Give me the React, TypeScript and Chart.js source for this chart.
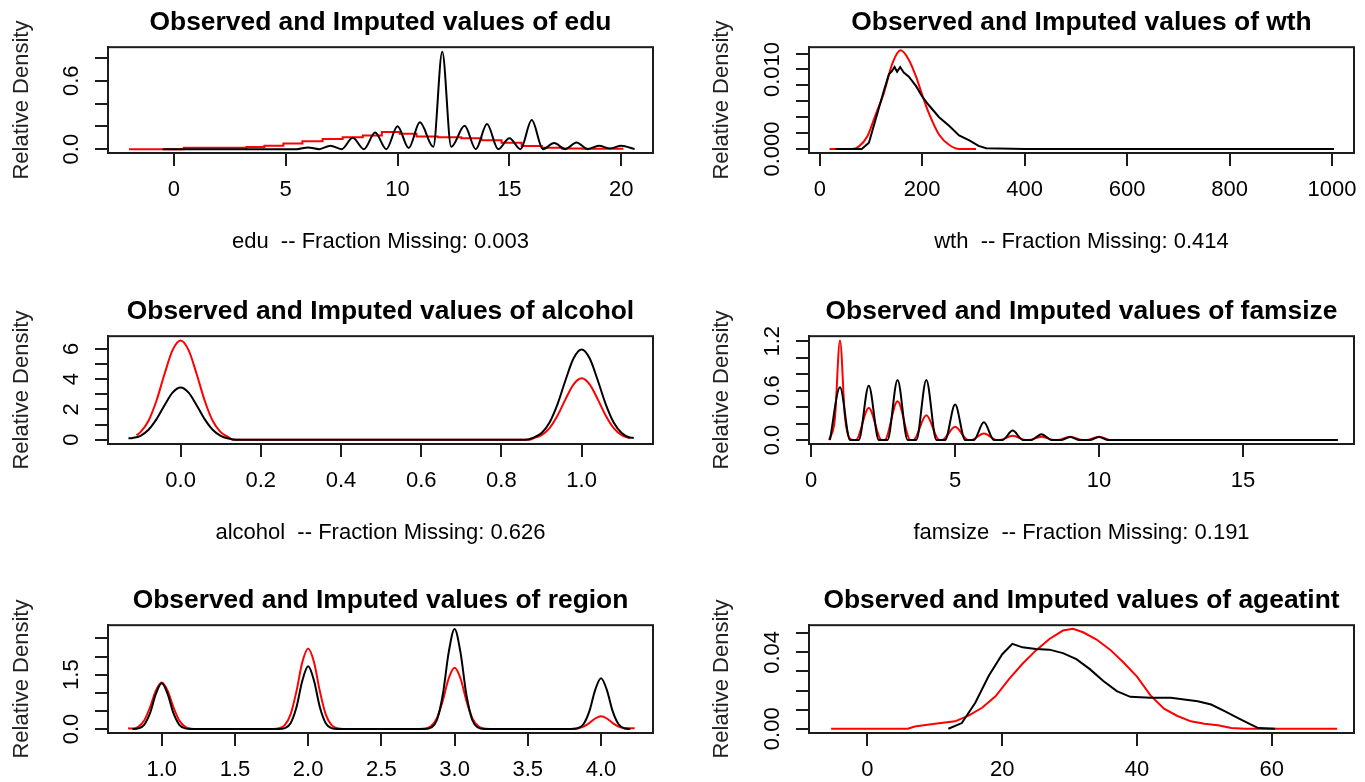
import React, { useEffect, useRef } from 'react';
import { Chart, registerables } from 'chart.js';

Chart.register(...registerables);

const FONT = "'Liberation Sans', Arial, Helvetica, sans-serif";
Chart.defaults.font.family = FONT;
Chart.defaults.color = '#000';

// ---------------- edu ----------------
const eduObsX = [-0.5, 5.5, 6, 6.5, 7, 7.5, 8, 8.5, 9, 9.5, 10, 10.5, 11, 11.6, 12, 12.4, 13, 13.5, 14, 14.5, 15, 15.5, 16, 16.5, 17, 17.5, 18, 18.5, 19, 19.5, 20, 20.6];
const eduObsY = [0, 0, 0.015, 0, 0.03, 0, 0.1, 0, 0.145, 0, 0.2, 0.01, 0.235, 0.02, 0.855, 0.02, 0.205, 0, 0.22, 0, 0.095, 0, 0.255, 0, 0.053, 0, 0.058, 0, 0.03, 0.005, 0.03, 0];
const eduImpX = [-2.0, 2.9, 3.6, 4.5, 5.3, 6.2, 7.1, 8.0, 8.9, 9.7, 10.5, 11.2, 12.4, 13.3, 14.2, 15.1, 16.0, 16.9, 17.8, 18.7, 20.1];
const eduImpY = [0, 0.012, 0.018, 0.03, 0.05, 0.07, 0.09, 0.105, 0.12, 0.15, 0.135, 0.11, 0.105, 0.095, 0.078, 0.055, 0.028, 0.013, 0.006, 0.004, 0.004];
const eduXTicks = [0, 5, 10, 15, 20];
const eduXLabels = ['0', '5', '10', '15', '20'];
const eduYTicks = [0, 0.2, 0.4, 0.6, 0.8];
const eduYLabels = ['0.0', '', '', '0.6', ''];

// ---------------- wth ----------------
const wthObsX = [31, 82, 96, 109, 125, 135, 141, 146, 151, 157, 164, 174, 188, 200, 213, 233, 253, 272, 292, 310, 325, 400, 1004];
const wthObsY = [0, 0, 0.0008, 0.0037, 0.0073, 0.0094, 0.0098, 0.0103, 0.0097, 0.0103, 0.0096, 0.0091, 0.0079, 0.0066, 0.0055, 0.004, 0.0029, 0.0017, 0.0011, 0.0004, 0.0001, 0, 0];
const wthImpX = [19, 63, 76, 93, 109, 125, 142, 158, 174, 188, 200, 213, 233, 253, 272, 305];
const wthImpY = [0, 0, 0.0003, 0.0016, 0.0043, 0.007, 0.0108, 0.0124, 0.0112, 0.0091, 0.0068, 0.0045, 0.0018, 0.0005, 0, 0];
const wthXTicks = [0, 200, 400, 600, 800, 1000];
const wthXLabels = ['0', '200', '400', '600', '800', '1000'];
const wthYTicks = [0, 0.002, 0.004, 0.006, 0.008, 0.01, 0.012];
const wthYLabels = ['0.000', '', '', '', '', '0.010', ''];

// ---------------- alcohol ----------------
const alcObsX = [-0.13, -0.12, -0.1, -0.08, -0.06, -0.04, -0.02, 0, 0.02, 0.04, 0.06, 0.08, 0.1, 0.12, 0.14, 0.86, 0.88, 0.9, 0.92, 0.94, 0.96, 0.98, 1.0, 1.02, 1.04, 1.06, 1.08, 1.1, 1.12, 1.13];
const alcObsY = [0.1, 0.12, 0.26, 0.66, 1.36, 2.28, 3.11, 3.45, 3.11, 2.28, 1.36, 0.66, 0.26, 0.08, 0, 0, 0.14, 0.45, 1.14, 2.35, 3.94, 5.37, 5.95, 5.37, 3.94, 2.35, 1.14, 0.45, 0.15, 0.12];
const alcImpX = [-0.11, -0.1, -0.08, -0.06, -0.04, -0.02, 0, 0.02, 0.04, 0.06, 0.08, 0.1, 0.12, 0.13, 0.87, 0.88, 0.9, 0.92, 0.94, 0.96, 0.98, 1.0, 1.02, 1.04, 1.06, 1.08, 1.1, 1.12];
const alcImpY = [0.3, 0.5, 1.25, 2.59, 4.34, 5.91, 6.55, 5.91, 4.34, 2.59, 1.25, 0.5, 0.16, 0, 0, 0.1, 0.31, 0.77, 1.6, 2.68, 3.65, 4.05, 3.65, 2.68, 1.6, 0.77, 0.31, 0.1];
const alcXTicks = [0, 0.2, 0.4, 0.6, 0.8, 1.0];
const alcXLabels = ['0.0', '0.2', '0.4', '0.6', '0.8', '1.0'];
const alcYTicks = [0, 1, 2, 3, 4, 5, 6];
const alcYLabels = ['0', '', '2', '', '4', '', '6'];

// ---------------- famsize ----------------
const famObsX = [0.65, 1.0, 1.35, 1.65, 2.0, 2.35, 2.65, 3.0, 3.35, 3.65, 4.0, 4.35, 4.65, 5.0, 5.35, 5.65, 6.0, 6.35, 6.65, 7.0, 7.35, 7.65, 8.0, 8.35, 8.7, 9.0, 9.3, 9.7, 10.0, 10.3, 18.3];
const famObsY = [0, 0.64, 0, 0, 0.66, 0, 0, 0.73, 0, 0, 0.73, 0, 0, 0.43, 0, 0, 0.215, 0, 0, 0.114, 0, 0, 0.07, 0, 0, 0.037, 0, 0, 0.037, 0, 0];
const famImpX = [0.62, 0.82, 1.0, 1.18, 1.45, 1.55, 2.0, 2.45, 2.55, 3.0, 3.45, 3.55, 4.0, 4.45, 4.55, 5.0, 5.45, 5.55, 6.0, 6.45, 6.55, 7.0, 7.45, 7.55, 8.0, 8.45, 8.55, 9.0, 9.45, 9.55, 10.0, 10.35];
const famImpY = [0, 0.25, 1.21, 0.25, 0, 0, 0.39, 0, 0, 0.47, 0, 0, 0.3, 0, 0, 0.16, 0, 0, 0.08, 0, 0, 0.05, 0, 0, 0.04, 0, 0, 0.04, 0, 0, 0.04, 0];
const famXTicks = [0, 5, 10, 15];
const famXLabels = ['0', '5', '10', '15'];
const famYTicks = [0, 0.2, 0.4, 0.6, 0.8, 1.0, 1.2];
const famYLabels = ['0.0', '', '', '0.6', '', '', '1.2'];

// ---------------- region ----------------
const regObsX = [0.8, 0.84, 0.88, 0.92, 0.96, 1.0, 1.04, 1.08, 1.12, 1.16, 1.2, 1.8, 1.84, 1.88, 1.92, 1.96, 2.0, 2.04, 2.08, 2.12, 2.16, 2.2, 2.8, 2.84, 2.88, 2.92, 2.96, 3.0, 3.04, 3.08, 3.12, 3.16, 3.2, 3.8, 3.84, 3.88, 3.92, 3.96, 4.0, 4.04, 4.08, 4.12, 4.16, 4.2];
const regObsY = [0, 0.018, 0.117, 0.437, 0.968, 1.26, 0.968, 0.437, 0.117, 0.018, 0, 0, 0.025, 0.16, 0.6, 1.33, 1.73, 1.33, 0.6, 0.16, 0.025, 0, 0, 0.04, 0.256, 0.958, 2.12, 2.76, 2.12, 0.958, 0.256, 0.04, 0, 0, 0.02, 0.13, 0.486, 1.075, 1.4, 1.075, 0.486, 0.13, 0.02, 0];
const regImpX = [0.77, 0.8, 0.84, 0.88, 0.92, 0.96, 1.0, 1.04, 1.08, 1.12, 1.16, 1.2, 1.24, 1.76, 1.8, 1.84, 1.88, 1.92, 1.96, 2.0, 2.04, 2.08, 2.12, 2.16, 2.2, 2.24, 2.76, 2.8, 2.84, 2.88, 2.92, 2.96, 3.0, 3.04, 3.08, 3.12, 3.16, 3.2, 3.24, 3.76, 3.8, 3.84, 3.88, 3.92, 3.96, 4.0, 4.04, 4.08, 4.12, 4.16, 4.2, 4.23];
const regImpY = [0.02, 0.011, 0.062, 0.233, 0.6, 1.06, 1.28, 1.06, 0.6, 0.233, 0.062, 0.011, 0.0014, 0.002, 0.02, 0.107, 0.404, 1.04, 1.84, 2.22, 1.84, 1.04, 0.404, 0.107, 0.02, 0.002, 0.002, 0.015, 0.082, 0.308, 0.79, 1.4, 1.69, 1.4, 0.79, 0.308, 0.082, 0.015, 0.002, 0, 0.003, 0.017, 0.064, 0.164, 0.29, 0.35, 0.29, 0.164, 0.064, 0.017, 0.02, 0.02];
const regXTicks = [1, 1.5, 2, 2.5, 3, 3.5, 4];
const regXLabels = ['1.0', '1.5', '2.0', '2.5', '3.0', '3.5', '4.0'];
const regYTicks = [0, 0.5, 1, 1.5, 2, 2.5];
const regYLabels = ['0.0', '', '', '1.5', '', ''];

// ---------------- ageatint ----------------
const ageObsX = [12, 14, 16, 18, 20, 21.5, 23, 25, 27, 29, 31, 33, 35, 37, 39, 42, 45, 47, 49, 51, 53, 55, 57, 58, 60.5];
const ageObsY = [0, 0.003, 0.0136, 0.0277, 0.039, 0.0444, 0.0426, 0.0417, 0.0414, 0.0396, 0.0364, 0.0312, 0.025, 0.0197, 0.0167, 0.0162, 0.0162, 0.0153, 0.0144, 0.0127, 0.0092, 0.0056, 0.0021, 0.0004, 0];
const ageImpX = [-5.4, 6, 7, 10, 13, 15, 17, 19, 21, 23, 25, 27, 29, 30.5, 32, 34, 36, 38, 40, 42, 44, 46, 48, 50, 52, 54, 56, 69.7];
const ageImpY = [0, 0, 0.0012, 0.0026, 0.0039, 0.0069, 0.011, 0.017, 0.026, 0.034, 0.041, 0.047, 0.0514, 0.0523, 0.0505, 0.0467, 0.0414, 0.0347, 0.0273, 0.0175, 0.0105, 0.0067, 0.0039, 0.0026, 0.0018, 0.0004, 0, 0];
const ageXTicks = [0, 20, 40, 60];
const ageXLabels = ['0', '20', '40', '60'];
const ageYTicks = [0, 0.01, 0.02, 0.03, 0.04, 0.05];
const ageYLabels = ['0.00', '', '', '', '0.04', ''];

type Panel = {
  name: string;
  sub: string;
  obsX: number[]; obsY: number[]; impX: number[]; impY: number[];
  obsMode: 'monotone' | 'default';
  impMode: 'monotone' | 'default';
  impStep?: false | 'middle';
  xTicks: number[]; xLabels: string[]; yTicks: number[]; yLabels: string[];
  xMin: number; xMax: number; yMin: number; yMax: number;
  left: number; top: number; width: number; height: number;
  yW: number; padRight: number; padBottom: number;
};

const panels: Panel[] = [
  { name: 'edu', sub: 'edu  -- Fraction Missing: 0.003', obsX: eduObsX, obsY: eduObsY, impX: eduImpX, impY: eduImpY, obsMode: 'monotone', impMode: 'default', impStep: 'middle',
    xTicks: eduXTicks, xLabels: eduXLabels, yTicks: eduYTicks, yLabels: eduYLabels, xMin: -2.94, xMax: 21.42, yMin: -0.034, yMax: 0.895,
    left: 0, top: 0, width: 690, height: 289, yW: 108, padRight: 37, padBottom: 33.4 },
  { name: 'wth', sub: 'wth  -- Fraction Missing: 0.414', obsX: wthObsX, obsY: wthObsY, impX: wthImpX, impY: wthImpY, obsMode: 'default', impMode: 'monotone',
    xTicks: wthXTicks, xLabels: wthXLabels, yTicks: wthYTicks, yLabels: wthYLabels, xMin: -21, xMax: 1043, yMin: -0.0005, yMax: 0.0128,
    left: 700, top: 0, width: 665, height: 289, yW: 109, padRight: 11, padBottom: 33.4 },
  { name: 'alcohol', sub: 'alcohol  -- Fraction Missing: 0.626', obsX: alcObsX, obsY: alcObsY, impX: alcImpX, impY: alcImpY, obsMode: 'monotone', impMode: 'monotone',
    xTicks: alcXTicks, xLabels: alcXLabels, yTicks: alcYTicks, yLabels: alcYLabels, xMin: -0.181, xMax: 1.178, yMin: -0.28, yMax: 6.83,
    left: 0, top: 289, width: 690, height: 289, yW: 108, padRight: 37, padBottom: 31.4 },
  { name: 'famsize', sub: 'famsize  -- Fraction Missing: 0.191', obsX: famObsX, obsY: famObsY, impX: famImpX, impY: famImpY, obsMode: 'monotone', impMode: 'monotone',
    xTicks: famXTicks, xLabels: famXLabels, yTicks: famYTicks, yLabels: famYLabels, xMin: -0.077, xMax: 18.86, yMin: -0.049, yMax: 1.262,
    left: 700, top: 289, width: 665, height: 289, yW: 109, padRight: 11, padBottom: 31.4 },
  { name: 'region', sub: '', obsX: regObsX, obsY: regObsY, impX: regImpX, impY: regImpY, obsMode: 'monotone', impMode: 'monotone',
    xTicks: regXTicks, xLabels: regXLabels, yTicks: regYTicks, yLabels: regYLabels, xMin: 0.633, xMax: 4.355, yMin: -0.11, yMax: 2.865,
    left: 0, top: 578, width: 690, height: 289, yW: 108, padRight: 37, padBottom: 31.4 },
  { name: 'ageatint', sub: '', obsX: ageObsX, obsY: ageObsY, impX: ageImpX, impY: ageImpY, obsMode: 'default', impMode: 'default',
    xTicks: ageXTicks, xLabels: ageXLabels, yTicks: ageYTicks, yLabels: ageYLabels, xMin: -8.68, xMax: 72.2, yMin: -0.0022, yMax: 0.0542,
    left: 700, top: 578, width: 665, height: 289, yW: 109, padRight: 11, padBottom: 31.4 },
];

const AXIS_COLOR = '#1c1c1c';

function buildChart(canvas: HTMLCanvasElement, p: Panel) {
  const framePlugin = {
    id: 'rframe',
    afterDraw(chart: any) {
      const { ctx, chartArea: a } = chart;
      const ys = chart.scales.y;
      ctx.save();
      ctx.strokeStyle = AXIS_COLOR;
      ctx.lineWidth = 2;
      ctx.strokeRect(a.left, a.top, a.right - a.left, a.bottom - a.top);
      ctx.fillStyle = '#000';
      ctx.font = `22px ${FONT}`;
      ctx.textAlign = 'center';
      ctx.textBaseline = 'middle';
      p.yTicks.forEach((v, i) => {
        const lab = p.yLabels[i];
        if (!lab) return;
        const py = ys.getPixelForValue(v);
        ctx.save();
        ctx.translate(a.left - 36, py);
        ctx.rotate(-Math.PI / 2);
        ctx.fillText(lab, 0, 0);
        ctx.restore();
      });
      ctx.restore();
    },
  };

  return new Chart(canvas, {
    type: 'line',
    data: {
      datasets: [
        {
          label: 'Observed',
          data: p.obsX.map((x, i) => ({ x, y: p.obsY[i] })),
          borderColor: '#000000',
          borderWidth: 2,
          pointRadius: 0,
          fill: false,
          cubicInterpolationMode: p.obsMode,
          tension: 0,
        },
        {
          label: 'Imputed',
          data: p.impX.map((x, i) => ({ x, y: p.impY[i] })),
          borderColor: '#ff0000',
          borderWidth: 2,
          pointRadius: 0,
          fill: false,
          cubicInterpolationMode: p.impMode,
          tension: 0,
          stepped: p.impStep || false,
        },
      ],
    },
    options: {
      responsive: false,
      animation: false,
      events: [],
      layout: { padding: { left: 0, right: p.padRight, top: 0, bottom: p.padBottom } },
      plugins: {
        legend: { display: false },
        tooltip: { enabled: false },
        title: {
          display: true,
          text: 'Observed and Imputed values of ' + p.name,
          fullSize: false,
          color: '#000',
          font: { family: FONT, size: 26.4, weight: 'bold' },
          padding: { top: 7, bottom: 8.5 },
        },
      },
      scales: {
        x: {
          type: 'linear',
          min: p.xMin,
          max: p.xMax,
          afterBuildTicks: (s: any) => { s.ticks = p.xTicks.map((v) => ({ value: v })); },
          afterFit: (s: any) => { s.height = 102.6; s.paddingLeft = 0; s.paddingRight = 0; },
          ticks: {
            autoSkip: false,
            maxRotation: 0,
            minRotation: 0,
            padding: 10.8,
            color: '#000',
            font: { family: FONT, size: 22 },
            callback: (_v: any, i: number) => p.xLabels[i],
          },
          grid: { drawOnChartArea: false, drawTicks: true, tickLength: 13, color: AXIS_COLOR, lineWidth: 2 },
          border: { display: true, color: AXIS_COLOR, width: 2 },
          title: { display: !!p.sub, text: p.sub, color: '#000', font: { family: FONT, size: 22 }, padding: { top: 0, bottom: 0 } },
        },
        y: {
          type: 'linear',
          min: p.yMin,
          max: p.yMax,
          afterBuildTicks: (s: any) => { s.ticks = p.yTicks.map((v) => ({ value: v })); },
          afterFit: (s: any) => { s.width = p.yW; s.paddingTop = 0; s.paddingBottom = 0; },
          ticks: { display: false },
          grid: { drawOnChartArea: false, drawTicks: true, tickLength: 13, color: AXIS_COLOR, lineWidth: 2 },
          border: { display: true, color: AXIS_COLOR, width: 2 },
          title: { display: true, text: 'Relative Density', color: '#222', font: { family: FONT, size: 22 }, padding: { top: 8.8, bottom: 0 } },
        },
      },
    } as any,
    plugins: [framePlugin],
  });
}

function PanelChart({ p }: { p: Panel }) {
  const ref = useRef<HTMLCanvasElement | null>(null);
  useEffect(() => {
    if (!ref.current) return;
    const chart = buildChart(ref.current, p);
    return () => chart.destroy();
  }, [p]);
  return (
    <canvas
      ref={ref}
      width={p.width}
      height={p.height}
      style={{ position: 'absolute', left: p.left, top: p.top, width: p.width, height: p.height }}
    />
  );
}

export default function App() {
  return (
    <div style={{ position: 'absolute', left: 0, top: 0, width: 1365, height: 782, overflow: 'hidden', background: '#ffffff' }}>
      {panels.map((p) => (
        <PanelChart key={p.name} p={p} />
      ))}
    </div>
  );
}
